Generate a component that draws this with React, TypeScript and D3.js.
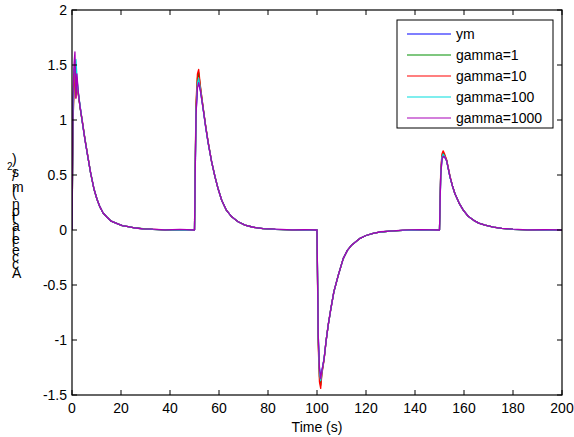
import React from 'react';
import * as d3 from 'd3';

// time (s)
const time = [
  0, 0.4, 0.8, 1.2, 1.6, 2.0, 2.5, 3.3, 4.3, 5.3, 6.5, 7.6, 9.0, 10.2, 11.4, 12.7, 14.1, 16, 18.2, 20.5, 22.9, 26, 29, 33, 38, 44, 50.0,
  50.6, 51.2, 51.7, 52.4, 53.6, 54.6, 55.6, 57, 58.4, 59.7, 61.1, 63, 65.2, 67.8, 70.6, 74, 78, 83, 90, 95, 100.0,
  100.5, 101, 101.5, 102, 102.9, 103.7, 104.6, 105.7, 106.9, 108.7, 110.7, 112.4, 114.2, 117.6, 120, 122.9, 126, 129.8, 135, 142, 150.0,
  150.5, 151, 151.5, 152.1, 152.9, 154.3, 155.3, 156.3, 158, 159.7, 161.7, 163.8, 166, 168.6, 172, 175.4, 180, 186, 193, 200,
];

const ym = [
  0, 1.0, 1.4, 1.52, 1.45, 1.35, 1.25, 1.12, 0.97, 0.82, 0.66, 0.52, 0.37, 0.28, 0.21, 0.155, 0.12, 0.08, 0.06, 0.04, 0.03, 0.018, 0.01, 0.005, 0.002, 0, 0,
  1.05, 1.3, 1.34, 1.27, 1.09, 0.93, 0.79, 0.62, 0.48, 0.37, 0.27, 0.18, 0.12, 0.075, 0.045, 0.025, 0.013, 0.006, 0.002, 0, 0,
  -0.95, -1.25, -1.34, -1.28, -1.17, -1.01, -0.86, -0.71, -0.56, -0.41, -0.26, -0.185, -0.136, -0.076, -0.05, -0.03, -0.018, -0.01, -0.004, 0, 0,
  0.5, 0.64, 0.67, 0.665, 0.63, 0.48, 0.4, 0.33, 0.245, 0.18, 0.125, 0.09, 0.063, 0.045, 0.027, 0.015, 0.006, 0.002, 0, 0,
];

const gamma1 = [
  0, 0.9, 1.35, 1.45, 1.3, 1.38, 1.26, 1.11, 0.97, 0.83, 0.66, 0.52, 0.37, 0.28, 0.21, 0.155, 0.12, 0.08, 0.06, 0.04, 0.03, 0.018, 0.012, 0.005, 0.002, 0.001, 0,
  1.1, 1.38, 1.43, 1.3, 1.1, 0.94, 0.79, 0.62, 0.48, 0.37, 0.27, 0.18, 0.12, 0.075, 0.045, 0.025, 0.013, 0.006, 0.002, 0, 0,
  -1.0, -1.33, -1.41, -1.3, -1.17, -1.01, -0.86, -0.71, -0.56, -0.41, -0.26, -0.185, -0.136, -0.076, -0.05, -0.03, -0.018, -0.01, -0.004, 0, 0,
  0.52, 0.67, 0.7, 0.68, 0.635, 0.48, 0.4, 0.33, 0.245, 0.18, 0.125, 0.09, 0.063, 0.045, 0.027, 0.015, 0.006, 0.002, 0, 0,
];

const gamma10 = [
  0, 0.95, 1.3, 1.42, 1.2, 1.32, 1.24, 1.12, 0.98, 0.82, 0.67, 0.52, 0.37, 0.28, 0.21, 0.155, 0.12, 0.08, 0.06, 0.04, 0.03, 0.018, 0.01, 0.006, 0.002, 0, 0,
  1.15, 1.42, 1.46, 1.31, 1.1, 0.94, 0.8, 0.62, 0.48, 0.37, 0.27, 0.18, 0.12, 0.075, 0.045, 0.025, 0.013, 0.006, 0.002, 0, 0,
  -1.05, -1.38, -1.44, -1.31, -1.18, -1.01, -0.86, -0.71, -0.56, -0.41, -0.26, -0.185, -0.136, -0.076, -0.05, -0.03, -0.018, -0.01, -0.004, 0, 0,
  0.54, 0.69, 0.72, 0.69, 0.64, 0.49, 0.4, 0.33, 0.245, 0.18, 0.125, 0.09, 0.063, 0.045, 0.027, 0.015, 0.006, 0.002, 0, 0,
];

const gamma100 = [
  0, 1.05, 1.45, 1.5, 1.55, 1.4, 1.26, 1.13, 0.97, 0.82, 0.66, 0.52, 0.37, 0.28, 0.21, 0.155, 0.12, 0.08, 0.06, 0.04, 0.03, 0.018, 0.01, 0.005, 0.002, 0, 0,
  1.08, 1.33, 1.38, 1.28, 1.09, 0.93, 0.79, 0.62, 0.48, 0.37, 0.27, 0.18, 0.12, 0.075, 0.045, 0.025, 0.013, 0.006, 0.002, 0, 0,
  -0.98, -1.3, -1.37, -1.29, -1.17, -1.01, -0.86, -0.71, -0.56, -0.41, -0.26, -0.185, -0.136, -0.076, -0.05, -0.03, -0.018, -0.01, -0.004, 0, 0,
  0.51, 0.66, 0.69, 0.67, 0.63, 0.48, 0.4, 0.33, 0.245, 0.18, 0.125, 0.09, 0.063, 0.045, 0.027, 0.015, 0.006, 0.002, 0, 0,
];

const gamma1000 = [
  0, 1.2, 1.5, 1.62, 1.2, 1.42, 1.27, 1.12, 0.97, 0.82, 0.66, 0.52, 0.37, 0.28, 0.21, 0.155, 0.12, 0.08, 0.06, 0.04, 0.03, 0.018, 0.01, 0.008, 0.002, 0.006, 0,
  1.04, 1.29, 1.34, 1.27, 1.09, 0.93, 0.79, 0.62, 0.48, 0.37, 0.27, 0.18, 0.12, 0.075, 0.045, 0.025, 0.013, 0.008, 0.002, 0.004, 0,
  -0.95, -1.26, -1.35, -1.28, -1.17, -1.01, -0.86, -0.71, -0.56, -0.41, -0.26, -0.185, -0.136, -0.076, -0.05, -0.03, -0.016, -0.01, -0.002, 0.004, 0,
  0.5, 0.64, 0.67, 0.665, 0.63, 0.48, 0.4, 0.33, 0.245, 0.18, 0.125, 0.09, 0.063, 0.045, 0.027, 0.015, 0.008, 0.002, 0.004, 0,
];

const seriesNames = ['ym', 'gamma=1', 'gamma=10', 'gamma=100', 'gamma=1000'];
const seriesValues = [ym, gamma1, gamma10, gamma100, gamma1000];
const seriesColors = ['#0000ff', '#009000', '#ff0000', '#00dede', '#a800b8'];

const xTicks = [0, 20, 40, 60, 80, 100, 120, 140, 160, 180, 200];
const yTicks = [-1.5, -1, -0.5, 0, 0.5, 1, 1.5, 2];
const xLabel = 'Time (s)';
const yLabelMain = 'Acceleration (m/s';
const yLabelSup = '2';
const yLabelEnd = ')';

const W = 574;
const H = 437;
const L = 72, R = 562, T = 10, B = 395;
const FONT = 'Arial, "Liberation Sans", Helvetica, sans-serif';

export default function App() {
  const x = d3.scaleLinear().domain([0, 200]).range([L, R]);
  const y = d3.scaleLinear().domain([-1.5, 2]).range([B, T]);
  const line = d3.line<number>().x((_, i) => x(time[i])).y((d) => y(d));
  const tickLen = 5;

  const legX = 397, legY = 20, legW = 156, legH = 108;
  const rowY = (i: number) => legY + 14 + i * 21;

  return (
    <svg width={W} height={H} style={{ position: 'absolute', left: 0, top: 0, background: '#fff' }} fontFamily={FONT}>
      <rect x={0} y={0} width={W} height={H} fill="#fff" />
      <defs>
        <clipPath id="plotClip">
          <rect x={L} y={T} width={R - L} height={B - T} />
        </clipPath>
      </defs>
      {/* series */}
      <g clipPath="url(#plotClip)">
        {seriesValues.map((vals, k) => (
          <path key={k} d={line(vals) || ''} fill="none" stroke={seriesColors[k]} strokeWidth={1.3} strokeLinejoin="round" />
        ))}
      </g>
      {/* axes box */}
      <rect x={L} y={T} width={R - L} height={B - T} fill="none" stroke="#000" strokeWidth={1.2} />
      {xTicks.map((t) => (
        <g key={'x' + t}>
          <line x1={x(t)} x2={x(t)} y1={B} y2={B - tickLen} stroke="#000" />
          <line x1={x(t)} x2={x(t)} y1={T} y2={T + tickLen} stroke="#000" />
          <text x={x(t)} y={B + 18} fontSize={14} textAnchor="middle" fill="#000">{t}</text>
        </g>
      ))}
      {yTicks.map((t) => (
        <g key={'y' + t}>
          <line x1={L} x2={L + tickLen} y1={y(t)} y2={y(t)} stroke="#000" />
          <line x1={R} x2={R - tickLen} y1={y(t)} y2={y(t)} stroke="#000" />
          <text x={L - 5} y={y(t)} dy="0.35em" fontSize={14} textAnchor="end" fill="#000">{t}</text>
        </g>
      ))}
      <text x={(L + R) / 2} y={432} fontSize={14} textAnchor="middle" fill="#000">{xLabel}</text>
      {/* y label: upright glyphs stacked along a vertical baseline */}
      <text transform="translate(12,278) rotate(-90)" fontSize={14} fill="#000" rotate="90">
        <tspan rotate="90">{yLabelMain}</tspan>
        <tspan rotate="90" fontSize={10} dy={-5}>{yLabelSup}</tspan>
        <tspan rotate="90" dy={5}>{yLabelEnd}</tspan>
      </text>
      {/* legend */}
      <rect x={legX} y={legY} width={legW} height={legH} fill="#fff" stroke="#000" strokeWidth={1} />
      {seriesNames.map((n, i) => (
        <g key={n}>
          <line x1={407} x2={451} y1={rowY(i)} y2={rowY(i)} stroke={seriesColors[i]} strokeWidth={1.2} />
          <text x={456} y={rowY(i)} dy="0.35em" fontSize={14} fill="#000">{n}</text>
        </g>
      ))}
    </svg>
  );
}
